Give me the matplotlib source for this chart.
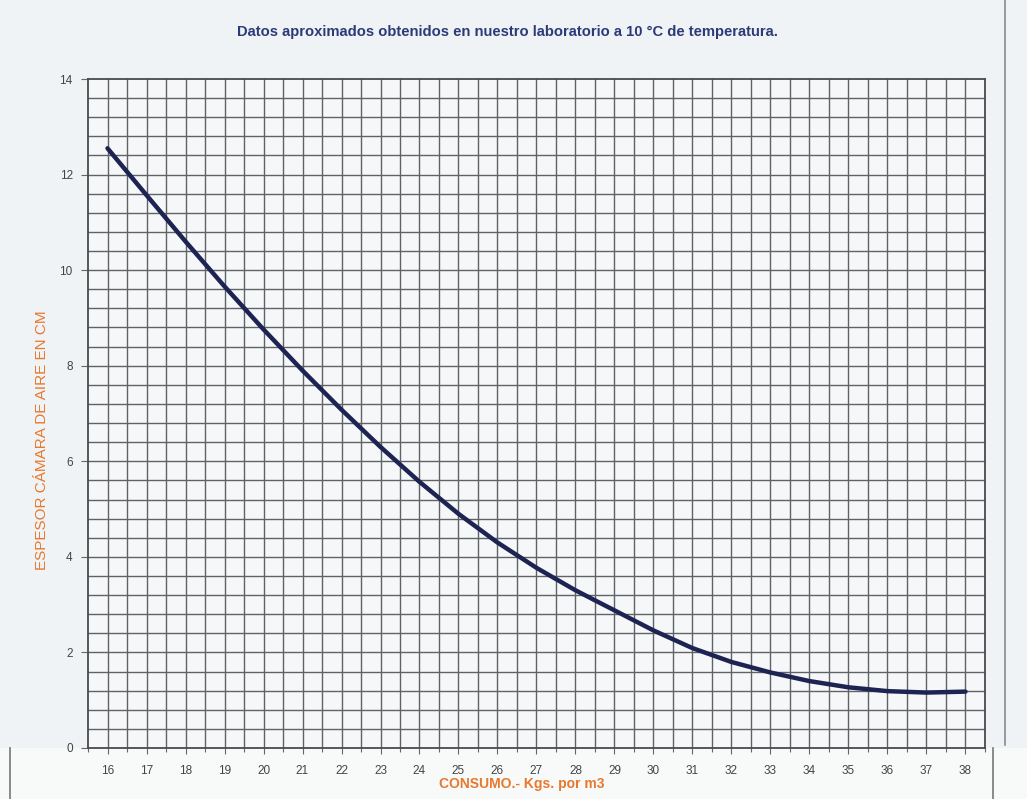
import matplotlib
matplotlib.use('Agg')
import matplotlib.pyplot as plt
import numpy as np
from matplotlib.lines import Line2D
from matplotlib.patches import Rectangle

# Consumption (kg per m3) vs air chamber thickness (cm)
consumo = [16, 17, 18, 19, 20, 21, 22, 23, 24, 25, 26, 27,
           28, 29, 30, 31, 32, 33, 34, 35, 36, 37, 38]
espesor = [12.55, 11.57, 10.60, 9.66, 8.76, 7.90, 7.08, 6.30, 5.57, 4.90, 4.30, 3.77,
           3.30, 2.88, 2.46, 2.09, 1.80, 1.58, 1.40, 1.27, 1.19, 1.16, 1.18]

x_ticks = list(range(16, 39))
y_ticks = [0, 2, 4, 6, 8, 10, 12, 14]

title = 'Datos aproximados obtenidos en nuestro laboratorio a 10 °C de temperatura.'
xlabel = 'CONSUMO.- Kgs. por m3'
ylabel = 'ESPESOR CÁMARA DE AIRE EN CM'

grid_c = '#5f6266'
orange = '#e8782c'
navy = '#1d2352'

plt.rcParams['font.family'] = ['Liberation Sans', 'DejaVu Sans']

fig = plt.figure(figsize=(10.27, 7.99), dpi=100)
fig.patch.set_facecolor('#f0f3f6')

# whiter strip at the bottom of the scan, with its frame lines
fig.patches.append(Rectangle((0, 0), 1, 1 - 748 / 799, transform=fig.transFigure,
                             facecolor='#f8f9f9', edgecolor='none', zorder=-2))
fig.lines.append(Line2D([10 / 1027, 10 / 1027], [0, 1 - 748 / 799],
                        transform=fig.transFigure, color='#777777', lw=1.2, zorder=-1))
fig.lines.append(Line2D([993 / 1027, 993 / 1027], [0, 1 - 748 / 799],
                        transform=fig.transFigure, color='#777777', lw=1.2, zorder=-1))
fig.lines.append(Line2D([1005 / 1027, 1005 / 1027], [1 - 745 / 799, 1],
                        transform=fig.transFigure, color='#8a8a8a', lw=1.2, zorder=-1))

ax = fig.add_axes([88 / 1027, 1 - 748 / 799, (985 - 88) / 1027, (748 - 79) / 799])
ax.set_zorder(2)
ax.set_facecolor('#f5f7f8')
ax.set_xlim(15.5, 38.5)
ax.set_ylim(0, 14)

# graph-paper grid
for gx in np.arange(16, 38.5, 0.5):
    ax.axvline(gx, color=grid_c, lw=1.0, zorder=1)
for gy in np.arange(0.4, 14, 0.4):
    ax.axhline(gy, color=grid_c, lw=1.0, zorder=1)

ax.plot(consumo, espesor, color=navy, lw=3.2, solid_capstyle='round', zorder=3)

for side in ['left', 'right', 'top', 'bottom']:
    ax.spines[side].set_color('#4a4a4a')
    ax.spines[side].set_linewidth(1.3)

ax.set_xticks(x_ticks)
ax.set_xticks(np.arange(15.5, 38.6, 0.5), minor=True)
ax.set_yticks(y_ticks)
ax.tick_params(axis='x', which='major', length=4, width=0.8, color='#666666',
               pad=8, labelsize=8.5, labelcolor='#444444')
ax.tick_params(axis='x', which='minor', length=3, width=0.8, color='#666666')
ax.tick_params(axis='y', length=5, width=0.8, color='#666666',
               pad=6, labelsize=8.5, labelcolor='#444444')

ax.set_xlabel(xlabel, color=orange, fontsize=10, fontweight='bold')
ax.xaxis.set_label_coords(0.484, -0.043)
ax.set_ylabel(ylabel, color=orange, fontsize=11)
ax.yaxis.set_label_coords(-0.043, 0.46)

fig.text(507 / 1027, 1 - 32 / 799, title, ha='center', va='center',
         fontsize=10.6, fontweight='bold', color='#2d3a78')

plt.savefig('out.png', dpi=100, facecolor=fig.get_facecolor())
